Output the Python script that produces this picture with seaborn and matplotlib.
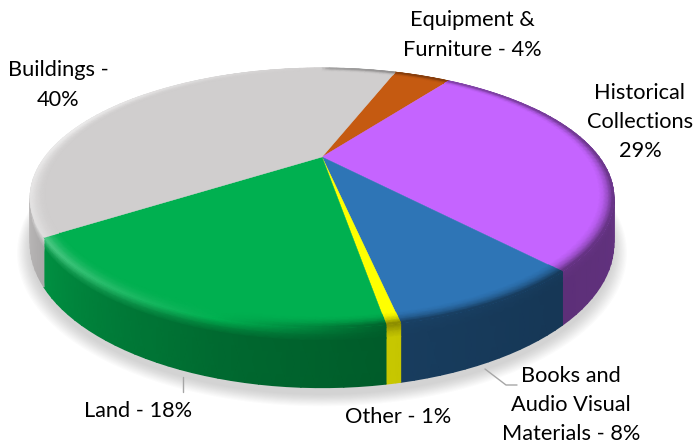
import numpy as np
import seaborn as sns
from matplotlib import pyplot as plt

categories = ["Equipment &\nFurniture - 4%", "Historical\nCollections\n29%",
              "Books and\nAudio Visual\nMaterials - 8%", "Other - 1%",
              "Land - 18%", "Buildings -\n40%"]
values = [4.2, 28.7, 8.4, 0.6, 18, 40.1]
colors = ["#C55A11", "#C564FF", "#2E75B6", "#FFFF00", "#00B050", "#D0CECE"]
wall_boost = [1, 1, 1, 1.5, 1, 1]  # yellow keeps more light on the wall

sns.set_theme(style="white")
plt.rcParams['font.family'] = ['Lato', 'DejaVu Sans']
palette = np.array(sns.color_palette(colors))

# perspective of the disc, in pixels of the picture
CX, CY = 322, 157
A, B, K = 277, 117, 0.315
DEPTH = 41


def project(a, r=1.0, drop=0.0):
    u = r * np.cos(np.radians(a))
    v = r * np.sin(np.radians(a))
    w = 1 + K * v
    return CX + A * u / w, CY - B * v / w + DEPTH * drop / w


def wall_shade(t):
    return np.interp(t, [90, 140, 170, 195, 235, 260, 300], [.52, .47, .52, .6, .82, .95, .97])


def rim_light(t):
    return np.interp(t, [0, 20, 90, 140, 170, 195, 225, 260, 285, 320, 360],
                     [-.2, -.3, -.45, -.5, -.45, 0, .22, .5, .6, .3, 0])


def lit(c, h):
    h = h[..., None]
    return np.where(h > 0, c + (1 - c) * h, c * (1 + h))


def mesh(a, r, d, rgb):
    # r, d and the colour run along the profile, a along the arc
    aa, rr = np.meshgrid(a, r)
    dd = np.meshgrid(a, d)[1]
    x, y = project(aa, rr, dd)
    return x, y, np.clip(rgb, 0, 1)


fig = plt.figure(figsize=(6.94, 4.46), dpi=100)
ax = fig.add_axes([0, 0, 1, 1])
wedges, _ = ax.pie(values, startangle=70, counterclock=False, colors=palette)
angles = [(w.theta1, w.theta2) for w in wedges]
for w in wedges:
    w.remove()

# soft shadow under the pie
full = np.linspace(0, 360, 181)
for grow in np.linspace(1.04, 1.0, 12):
    x, y = project(full, grow, 1.12)
    ax.fill(x, y, color="#606060", alpha=.022, lw=0, zorder=1)

wall_d = np.array([0, .05, .12, .22, 1.0])
wall_m = np.array([1, .8, .4, 0, 0])[:, None, None]
rim_r = np.array([.955, .97, .985, .995, 1.0])
rim_m = np.array([0, .2, .6, .95, 1.0])[:, None, None]

for (t1, t2), c, boost in zip(angles, palette, wall_boost):
    a = np.linspace(t1, t2, max(int((t2 - t1) / 2), 3) + 1)
    t = (90 - a) % 360

    # outer wall, front part only
    front = (t > 60) & (t < 310)
    if front.sum() > 1:
        af, tf = a[front], t[front]
        wall = c * (wall_shade(tf) * boost)[..., None]
        rim = lit(c, rim_light(tf))
        rgb = wall[None] + (rim - wall)[None] * wall_m
        x, y, rgb = mesh(af, np.ones(5), wall_d, rgb)
        ax.pcolormesh(x, y, rgb, shading="gouraud", zorder=2)

    # flat top of the slice
    x, y = project(np.linspace(t1, t2, 60))
    ax.fill(np.r_[CX, x], np.r_[CY, y], color=c, lw=.3, zorder=3)

    # bevel along the edge of the top
    rim = lit(c, rim_light(t))
    rgb = c[None, None] + (rim - c)[None] * rim_m
    x, y, rgb = mesh(a, rim_r, np.zeros(5), rgb)
    ax.pcolormesh(x, y, rgb, shading="gouraud", zorder=4)

ax.set_xlim(0, 694)
ax.set_ylim(446, 0)
ax.set_aspect("auto")
ax.axis("off")

# leader lines
ax.plot([183, 183], [377, 392], color="#A6A6A6", lw=1, zorder=5)
ax.plot([485, 506, 517], [369, 385, 385], color="#A6A6A6", lw=1, zorder=5)

label_pos = [(472, 35), (640, 122), (571, 405), (398, 417), (138, 411), (58, 85)]
for lab, (x, y) in zip(categories, label_pos):
    ax.text(x, y, lab, ha="center", va="center", fontsize=15.7, color="black",
            linespacing=1.58, zorder=6)

fig.savefig("out.png", dpi=100)
